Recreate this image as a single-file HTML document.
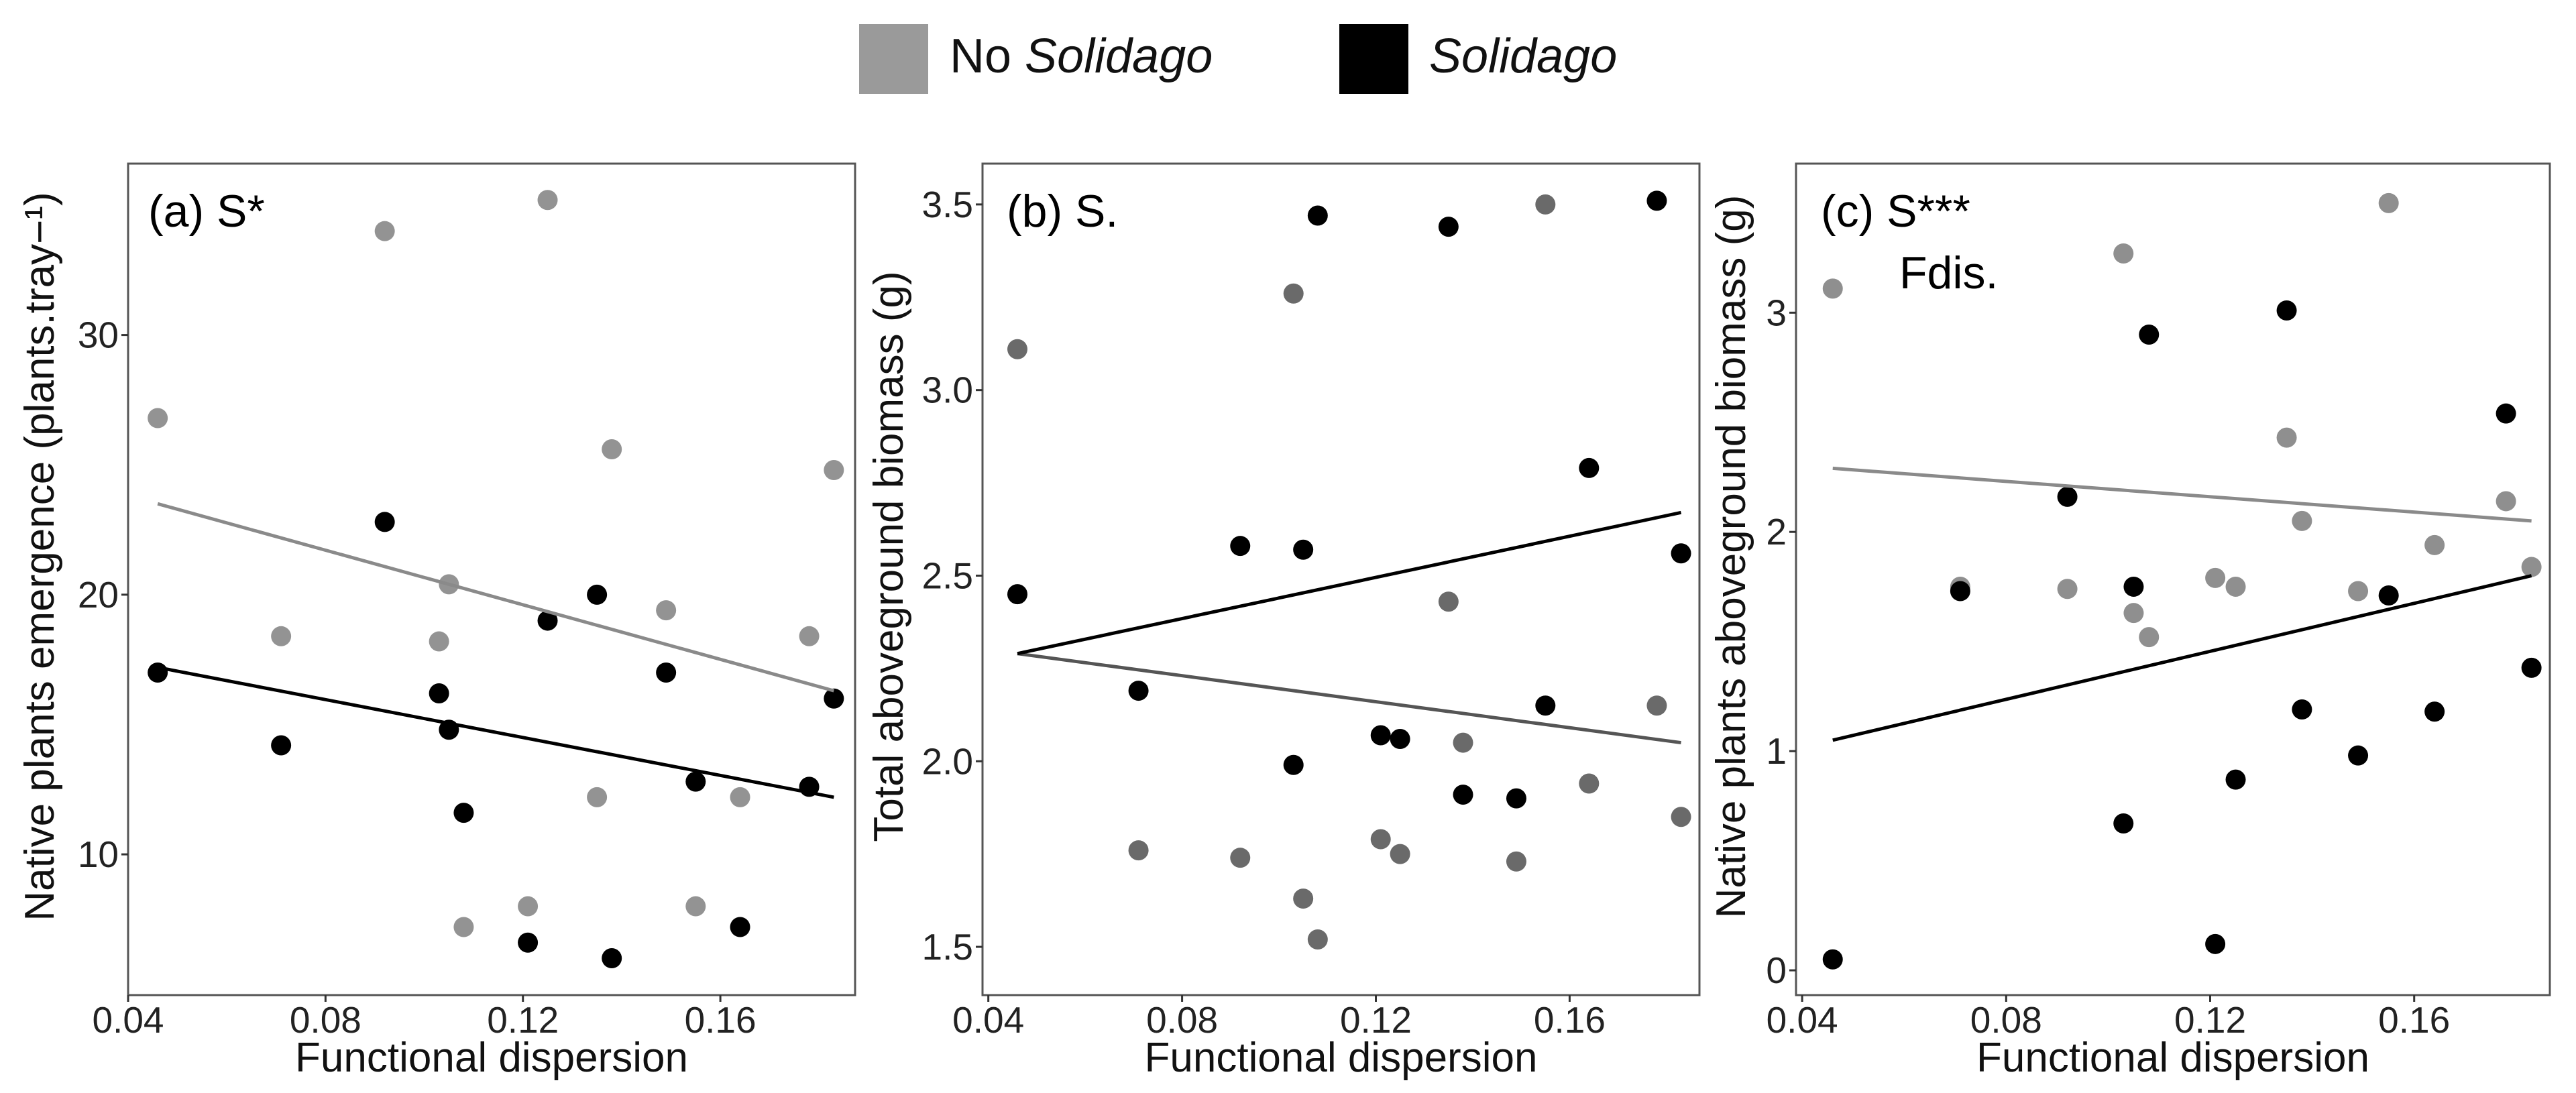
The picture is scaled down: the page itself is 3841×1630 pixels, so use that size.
<!DOCTYPE html>
<html><head><meta charset="utf-8"><style>
html,body{margin:0;padding:0;background:#fff;}
svg{display:block;font-family:"Liberation Sans",Arial,sans-serif;}
</style></head><body>
<svg id="fig" width="3841" height="1630" viewBox="0 0 3841 1630" xmlns="http://www.w3.org/2000/svg">
<g>
<rect x="1281" y="36" width="103" height="104" fill="#9a9a9a"/>
<text x="1416" y="108" font-size="72" fill="#111">No <tspan font-style="italic">Solidago</tspan></text>
<rect x="1997" y="36" width="103" height="104" fill="#000"/>
<text x="2131" y="108" font-size="72" font-style="italic" fill="#111">Solidago</text>
</g>
</svg>
<script>
const xVals = [0.046,0.071,0.092,0.103,0.105,0.108,0.121,0.125,0.135,0.138,0.149,0.155,0.164,0.178,0.183];
const aNo = [26.8,18.4,34,18.2,20.4,7.2,8,35.2,12.2,25.6,19.4,8,12.2,18.4,24.8];
const aSol = [17,14.2,22.8,16.2,14.8,11.6,6.6,19,20,6,17,12.8,7.2,12.6,16];
const aNoLine = [23.5,16.3];
const aSolLine = [17.2,12.2];
const bNo = [3.11,1.76,1.74,3.26,1.63,1.52,1.79,1.75,2.43,2.05,1.73,3.5,1.94,2.15,1.85];
const bSol = [2.45,2.19,2.58,1.99,2.57,3.47,2.07,2.06,3.44,1.91,1.90,2.15,2.79,3.51,2.56];
const bNoLine = [2.29,2.05];
const bSolLine = [2.29,2.67];
const cNo = [3.11,1.75,1.74,3.27,1.63,1.52,1.79,1.75,2.43,2.05,1.73,3.5,1.94,2.14,1.84];
const cSol = [0.05,1.73,2.16,0.67,1.75,2.9,0.12,0.87,3.01,1.19,0.98,1.71,1.18,2.54,1.38];
const cNoLine = [2.29,2.05];
const cSolLine = [1.05,1.80];
const lineX = [0.046,0.183];
const xTicks = [0.04,0.08,0.12,0.16];
const xTickLabels = ["0.04","0.08","0.12","0.16"];
const aYTicks = [10,20,30];
const bYTicks = [1.5,2.0,2.5,3.0,3.5];
const cYTicks = [0,1,2,3];

const NS="http://www.w3.org/2000/svg";
const svg=document.getElementById('fig');
function mk(tag,attrs,parent){const e=document.createElementNS(NS,tag);for(const k in attrs)e.setAttribute(k,attrs[k]);(parent||svg).appendChild(e);return e;}

function panel(o){
  const g=mk('g',{});
  
  
  const sx=v=>o.left+(v-o.x0)/(o.x1-o.x0)*(o.right-o.left);
  const sy=v=>o.bottom-(v-o.y0)/(o.y1-o.y0)*(o.bottom-o.top);
  const box=mk('rect',{x:o.left,y:o.top,width:o.right-o.left,height:o.bottom-o.top,fill:'none',stroke:'#555','stroke-width':3},g);
  
  
  xTicks.forEach((t,i)=>{
    const tk=mk('line',{x1:sx(t),x2:sx(t),y1:o.bottom,y2:o.bottom+10,stroke:'#333','stroke-width':3},g);
    
    
    const tl=mk('text',{x:sx(t),y:1540,'font-size':55,'text-anchor':'middle',fill:'#222'},g);
    tl.textContent=xTickLabels[i];
    
    
  });
  o.yTicks.forEach(t=>{
    const tk=mk('line',{x1:o.left-10,x2:o.left,y1:sy(t),y2:sy(t),stroke:'#333','stroke-width':3},g);
    
    
    const tl=mk('text',{x:o.left-14,y:sy(t)+19,'font-size':55,'text-anchor':'end',fill:'#222'},g);
    tl.textContent=o.yFmt(t);
    
    
  });
  const xt=mk('text',{x:(o.left+o.right)/2,y:1598,'font-size':62,'text-anchor':'middle',fill:'#111'},g);
  xt.textContent='Functional dispersion';
  
  
  const yt=mk('text',{x:0,y:0,'font-size':62,'text-anchor':'middle',fill:'#111',transform:`translate(${o.ytx},${o.ytc}) rotate(-90)`},g);
  yt.textContent=o.ytitle;
  
  
  o.labels.forEach((s,i)=>{
    const pl=mk('text',{x:o.left+o.labX[i],y:338+i*92,'font-size':68,fill:'#000'},g);
    pl.textContent=s;
    
    
  });
  xVals.forEach((x,i)=>{
    const c=mk('circle',{cx:sx(x),cy:sy(o.no[i]),r:15,fill:o.grey},g);
    
    
  });
  xVals.forEach((x,i)=>{
    const c=mk('circle',{cx:sx(x),cy:sy(o.sol[i]),r:15,fill:'#000'},g);
    
    
  });
  const l1=mk('line',{x1:sx(lineX[0]),x2:sx(lineX[1]),y1:sy(o.noLine[0]),y2:sy(o.noLine[1]),stroke:o.lineGrey,'stroke-width':5},g);
  
  
  const l2=mk('line',{x1:sx(lineX[0]),x2:sx(lineX[1]),y1:sy(o.solLine[0]),y2:sy(o.solLine[1]),stroke:'#000','stroke-width':5},g);
  
  
}
panel({id:'a',left:191,right:1275,top:244,bottom:1484,x0:0.04,x1:0.1873,y0:4.58,y1:36.6,
  yTicks:aYTicks,yFmt:t=>String(t),ytx:80,ytc:830,ytitle:'Native plants emergence (plants.tray\u2212\u00b9)',
  labels:['(a) S*'],labX:[30],no:aNo,sol:aSol,noLine:aNoLine,solLine:aSolLine,grey:'#939393',lineGrey:'#8a8a8a'});
panel({id:'b',left:1465,right:2534,top:244,bottom:1484,x0:0.0388,x1:0.1868,y0:1.37,y1:3.61,
  yTicks:bYTicks,yFmt:t=>t.toFixed(1),ytx:1346,ytc:830,ytitle:'Total aboveground biomass (g)',
  labels:['(b) S.'],labX:[36],no:bNo,sol:bSol,noLine:bNoLine,solLine:bSolLine,grey:'#6a6a6a',lineGrey:'#555'});
panel({id:'c',left:2678,right:3802,top:244,bottom:1484,x0:0.0388,x1:0.1866,y0:-0.113,y1:3.68,
  yTicks:cYTicks,yFmt:t=>String(t),ytx:2602,ytc:830,ytitle:'Native plants aboveground biomass (g)',
  labels:['(c) S***','Fdis.'],labX:[37,154],no:cNo,sol:cSol,noLine:cNoLine,solLine:cSolLine,grey:'#8f8f8f',lineGrey:'#8a8a8a'});
</script>
</body></html>
